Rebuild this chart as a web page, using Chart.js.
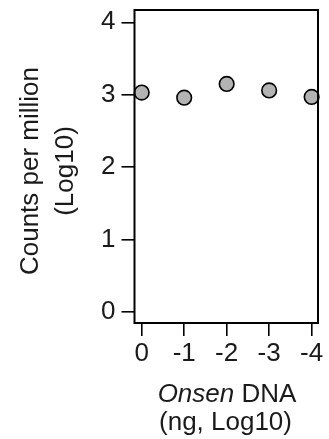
<!DOCTYPE html>
<html>
<head>
<meta charset="utf-8">
<script src="https://cdn.jsdelivr.net/npm/chart.js@4"></script>
<style>
html,body{margin:0;padding:0;background:#fff;}
#wrap{position:relative;width:329px;height:439px;}
</style>
</head>
<body>
<div id="wrap"><canvas id="c" width="329" height="439"></canvas></div>
<script>
const categories = ['0', '-1', '-2', '-3', '-4'];
const countsPerMillion = [3.03, 2.96, 3.15, 3.06, 2.97];
const yTickValues = [0, 1, 2, 3, 4];
const yTitleLines = ['Counts per million', '(Log10)'];
const xTitleItalic = 'Onsen';
const xTitleRest = ' DNA';
const xTitleLine2 = '(ng, Log10)';

const FONT = "'Liberation Sans', Arial, sans-serif";
const TXT = '#1a1a1a';

const boxAndTitles = {
  id: 'boxAndTitles',
  afterDraw(chart) {
    const ctx = chart.ctx;
    const a = chart.chartArea;
    ctx.save();
    ctx.strokeStyle = '#000';
    ctx.lineWidth = 2;
    ctx.strokeRect(a.left, a.top, a.right - a.left, a.bottom - a.top);
    ctx.fillStyle = TXT;
    ctx.textBaseline = 'alphabetic';
    // y title
    const cy = 171;
    ctx.font = '26px ' + FONT;
    ctx.textAlign = 'center';
    [[37.5, yTitleLines[0]], [72.7, yTitleLines[1]]].forEach(([x, t]) => {
      ctx.save();
      ctx.translate(x, cy);
      ctx.rotate(-Math.PI / 2);
      ctx.fillText(t, 0, 0);
      ctx.restore();
    });
    // x title line 1 (mixed italic)
    const cx = 227;
    ctx.textAlign = 'left';
    ctx.font = 'italic 26px ' + FONT;
    const w1 = ctx.measureText(xTitleItalic).width;
    ctx.font = '26px ' + FONT;
    const w2 = ctx.measureText(xTitleRest).width;
    let x0 = cx - (w1 + w2) / 2;
    ctx.font = 'italic 26px ' + FONT;
    ctx.fillText(xTitleItalic, x0, 402);
    ctx.font = '26px ' + FONT;
    ctx.fillText(xTitleRest, x0 + w1, 402);
    ctx.textAlign = 'center';
    ctx.fillText(xTitleLine2, 225.5, 429.5);
    ctx.restore();
  }
};

function zeroPad(scale) {
  scale.paddingTop = 0; scale.paddingBottom = 0;
  scale.paddingLeft = 0; scale.paddingRight = 0;
}

new Chart(document.getElementById('c'), {
  type: 'scatter',
  data: {
    datasets: [{
      data: countsPerMillion.map((v, i) => ({ x: i, y: v })),
      backgroundColor: '#b3b3b3',
      borderColor: '#000',
      borderWidth: 1.6,
      pointRadius: 7.3,
      pointHoverRadius: 7.3,
      clip: false
    }]
  },
  options: {
    responsive: false,
    animation: false,
    events: [],
    layout: { padding: { top: 10, right: 11, left: 0, bottom: 0 } },
    plugins: { legend: { display: false }, tooltip: { enabled: false } },
    scales: {
      x: {
        type: 'linear',
        min: -0.17,
        max: 4.15,
        afterBuildTicks(scale) { scale.ticks = categories.map((_, i) => ({ value: i })); },
        afterFit(scale) { scale.height = 116; zeroPad(scale); },
        ticks: {
          callback: (v) => categories[v],
          color: TXT,
          font: { family: FONT, size: 26 },
          padding: 2,
          maxRotation: 0,
          autoSkip: false
        },
        grid: { drawOnChartArea: false, drawTicks: true, tickLength: 13, color: '#000', lineWidth: 1.6 },
        border: { display: false }
      },
      y: {
        min: -0.15,
        max: 4.17,
        afterBuildTicks(scale) { scale.ticks = yTickValues.map(v => ({ value: v })); },
        afterFit(scale) { scale.width = 134.5; zeroPad(scale); },
        ticks: {
          color: TXT,
          font: { family: FONT, size: 26 },
          padding: 6
        },
        grid: { drawOnChartArea: false, drawTicks: true, tickLength: 13, color: '#000', lineWidth: 1.6 },
        border: { display: false }
      }
    }
  },
  plugins: [boxAndTitles]
});
</script>
</body>
</html>
